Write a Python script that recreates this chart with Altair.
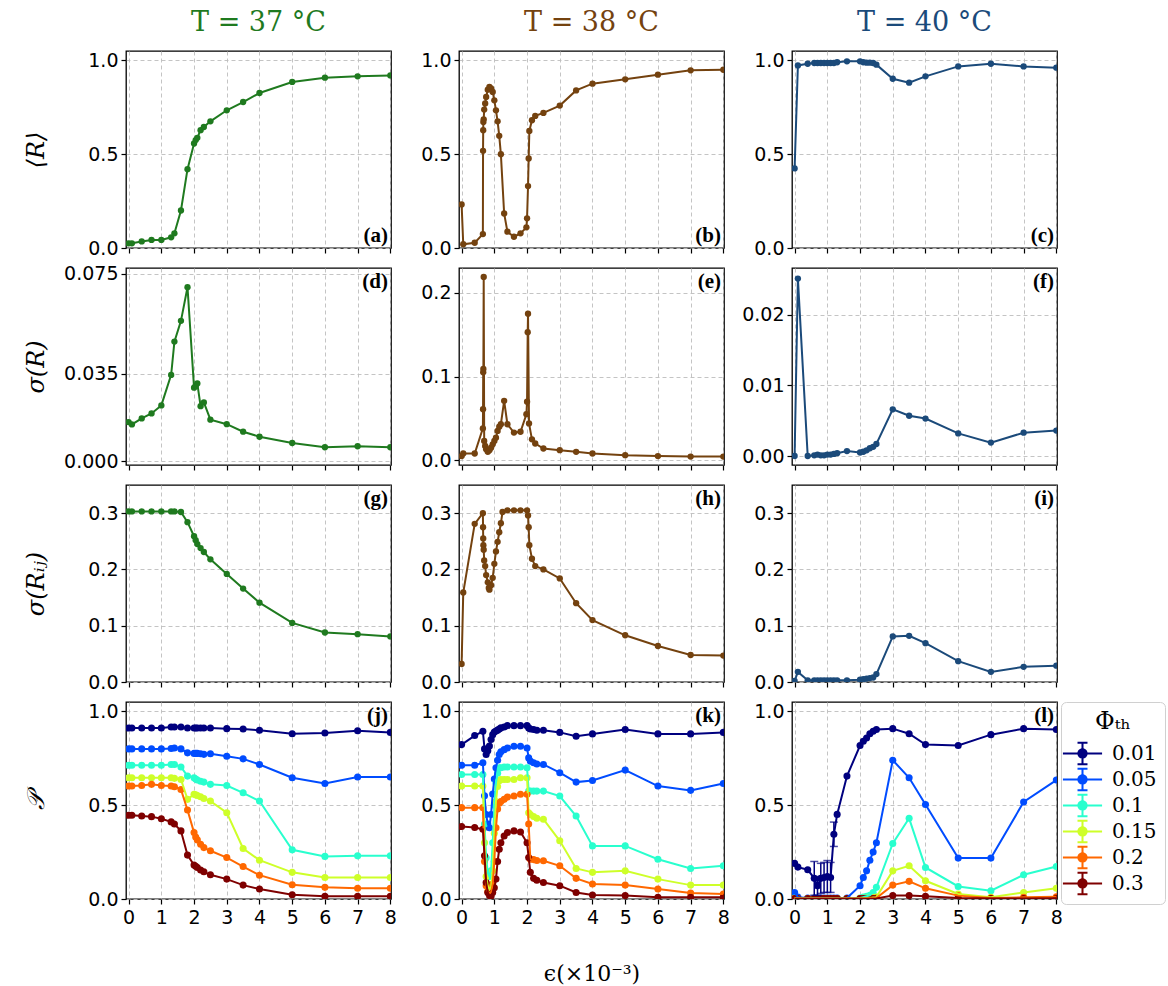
import altair as alt
import pandas as pd

# ---------------- data ----------------
TITLES = ["T = 37 °C", "T = 38 °C", "T = 40 °C"]
COLORS = ["#1f7a1f", "#74420f", "#1b4a7a"]
PHI = ["0.01", "0.05", "0.1", "0.15", "0.2", "0.3"]
JET = ["#00007f", "#004cff", "#29ffce", "#ceff29", "#ff6800", "#7f0000"]
X_TICKS = [0, 1, 2, 3, 4, 5, 6, 7, 8]
LETTERS = ["(a)", "(b)", "(c)", "(d)", "(e)", "(f)", "(g)", "(h)", "(i)", "(j)", "(k)", "(l)"]

# T = 37 C
X37 = [0, 0.1, 0.4, 0.7, 1.0, 1.3, 1.4, 1.6, 1.8, 2.0, 2.05, 2.1, 2.2, 2.3, 2.5, 3.0, 3.5, 4.0, 5.0, 6.0, 7.0, 8.0]
R37 = [0.025, 0.025, 0.035, 0.043, 0.043, 0.057, 0.078, 0.20, 0.42, 0.557, 0.575, 0.587, 0.628, 0.645, 0.675,
       0.734, 0.778, 0.826, 0.885, 0.908, 0.915, 0.92]
SR37 = [0.0156, 0.0147, 0.0171, 0.0191, 0.0223, 0.0345, 0.0478, 0.0561, 0.0695, 0.0294, 0.0301, 0.0311, 0.0220,
        0.0235, 0.0166, 0.0148, 0.0118, 0.0098, 0.0073, 0.0056, 0.0060, 0.0056]
SRIJ37 = [0.303, 0.303, 0.303, 0.303, 0.303, 0.303, 0.303, 0.302, 0.284, 0.259, 0.252, 0.245, 0.238, 0.231, 0.218,
          0.192, 0.166, 0.141, 0.105, 0.088, 0.085, 0.081]
P37_001 = [0.911, 0.911, 0.911, 0.911, 0.911, 0.917, 0.917, 0.917, 0.911, 0.911, 0.911, 0.911, 0.911, 0.911, 0.911,
           0.908, 0.906, 0.899, 0.881, 0.885, 0.897, 0.888]
P37_005 = [0.80, 0.80, 0.80, 0.80, 0.80, 0.802, 0.805, 0.80, 0.779, 0.776, 0.776, 0.776, 0.774, 0.771, 0.774,
           0.761, 0.747, 0.717, 0.646, 0.616, 0.65, 0.65]
P37_010 = [0.713, 0.713, 0.713, 0.713, 0.713, 0.717, 0.717, 0.704, 0.655, 0.646, 0.64, 0.634, 0.628, 0.623, 0.611,
           0.605, 0.566, 0.522, 0.262, 0.227, 0.23, 0.23]
P37_015 = [0.646, 0.646, 0.646, 0.646, 0.646, 0.646, 0.643, 0.637, 0.531, 0.558, 0.555, 0.552, 0.545, 0.536, 0.522,
           0.46, 0.269, 0.207, 0.142, 0.115, 0.115, 0.115]
P37_020 = [0.602, 0.602, 0.605, 0.611, 0.605, 0.602, 0.598, 0.584, 0.474, 0.354, 0.33, 0.315, 0.292, 0.274, 0.257,
           0.221, 0.173, 0.127, 0.076, 0.062, 0.057, 0.057]
P37_030 = [0.446, 0.446, 0.442, 0.439, 0.428, 0.411, 0.40, 0.363, 0.234, 0.181, 0.175, 0.168, 0.155, 0.145, 0.129,
           0.106, 0.074, 0.053, 0.023, 0.014, 0.014, 0.014]

# T = 38 C
XR38 = [0, 0.05, 0.4, 0.65, 0.655, 0.66, 0.665, 0.675, 0.69, 0.72, 0.75, 0.8, 0.85, 0.9, 0.95, 1.0, 1.05, 1.1,
        1.15, 1.2, 1.3, 1.4, 1.6, 1.8, 1.98, 2.0, 2.03, 2.05, 2.07, 2.15, 2.25, 2.5, 3.0, 3.5, 4.0, 5.0, 6.0, 7.0, 8.0]
R38 = [0.232, 0.02, 0.028, 0.074, 0.518, 0.628, 0.672, 0.686, 0.738, 0.77, 0.805, 0.844, 0.858, 0.85, 0.832,
       0.787, 0.734, 0.675, 0.598, 0.5, 0.184, 0.087, 0.06, 0.078, 0.11, 0.158, 0.33, 0.477, 0.624, 0.681, 0.704,
       0.72, 0.759, 0.84, 0.876, 0.899, 0.924, 0.947, 0.95]
XS38 = [0, 0.05, 0.4, 0.65, 0.655, 0.66, 0.665, 0.675, 0.69, 0.72, 0.75, 0.8, 0.85, 0.9, 0.95, 1.0, 1.05, 1.1,
        1.15, 1.2, 1.3, 1.4, 1.6, 1.8, 1.98, 2.0, 2.02, 2.03, 2.06, 2.15, 2.25, 2.5, 3.0, 3.5, 4.0, 5.0, 6.0, 7.0, 8.0]
SR38 = [0.005, 0.008, 0.008, 0.038, 0.061, 0.105, 0.109, 0.219, 0.023, 0.017, 0.013, 0.010, 0.012, 0.015, 0.019,
        0.023, 0.027, 0.035, 0.040, 0.043, 0.071, 0.043, 0.033, 0.034, 0.055, 0.07, 0.153, 0.175, 0.044, 0.025,
        0.02, 0.014, 0.012, 0.01, 0.008, 0.006, 0.005, 0.0044, 0.0044]
XH38 = [0, 0.05, 0.4, 0.65, 0.655, 0.66, 0.665, 0.675, 0.69, 0.72, 0.75, 0.8, 0.83, 0.85, 0.9, 0.95, 1.0, 1.05,
        1.1, 1.15, 1.2, 1.25, 1.4, 1.6, 1.8, 2.0, 2.03, 2.05, 2.07, 2.15, 2.25, 2.5, 3.0, 3.5, 4.0, 5.0, 6.0, 7.0, 8.0]
SRIJ38 = [0.032, 0.159, 0.281, 0.3, 0.275, 0.255, 0.243, 0.235, 0.216, 0.206, 0.19, 0.177, 0.167, 0.164, 0.172,
          0.185, 0.21, 0.232, 0.249, 0.266, 0.282, 0.302, 0.305, 0.305, 0.305, 0.305, 0.296, 0.275, 0.243, 0.219,
          0.206, 0.2, 0.184, 0.14, 0.11, 0.083, 0.064, 0.048, 0.047]
X38P = [0, 0.4, 0.65, 0.7, 0.75, 0.8, 0.85, 0.9, 0.95, 1.0, 1.05, 1.1, 1.15, 1.2, 1.3, 1.4, 1.6, 1.8, 2.0, 2.05,
        2.1, 2.2, 2.3, 2.5, 3.0, 3.5, 4.0, 5.0, 6.0, 7.0, 8.0]
P38_001 = [0.823, 0.871, 0.894, 0.80, 0.77, 0.79, 0.815, 0.85, 0.876, 0.89, 0.895, 0.90, 0.906, 0.912, 0.917, 0.924,
           0.924, 0.924, 0.924, 0.912, 0.906, 0.903, 0.899, 0.899, 0.888, 0.867, 0.88, 0.903, 0.88, 0.88, 0.888]
P38_005 = [0.713, 0.713, 0.726, 0.55, 0.45, 0.40, 0.38, 0.45, 0.56, 0.64, 0.70, 0.74, 0.77, 0.785, 0.796, 0.805,
           0.814, 0.814, 0.805, 0.752, 0.735, 0.726, 0.72, 0.717, 0.673, 0.623, 0.632, 0.687, 0.602, 0.579, 0.616]
P38_010 = [0.664, 0.664, 0.664, 0.40, 0.22, 0.14, 0.12, 0.15, 0.30, 0.50, 0.62, 0.67, 0.70, 0.70, 0.704, 0.704,
           0.704, 0.704, 0.70, 0.575, 0.575, 0.575, 0.575, 0.575, 0.549, 0.442, 0.283, 0.283, 0.212, 0.163, 0.177]
P38_015 = [0.602, 0.602, 0.602, 0.30, 0.12, 0.07, 0.05, 0.06, 0.15, 0.35, 0.52, 0.60, 0.63, 0.637, 0.637, 0.637,
           0.637, 0.646, 0.646, 0.46, 0.45, 0.44, 0.43, 0.425, 0.31, 0.163, 0.142, 0.15, 0.106, 0.074, 0.074]
P38_020 = [0.487, 0.487, 0.487, 0.20, 0.07, 0.04, 0.03, 0.035, 0.08, 0.20, 0.38, 0.48, 0.51, 0.52, 0.531, 0.543,
           0.549, 0.558, 0.558, 0.40, 0.212, 0.21, 0.205, 0.204, 0.177, 0.11, 0.08, 0.074, 0.053, 0.032, 0.027]
P38_030 = [0.386, 0.381, 0.372, 0.23, 0.088, 0.035, 0.018, 0.015, 0.035, 0.06, 0.106, 0.20, 0.265, 0.30, 0.336,
           0.354, 0.363, 0.357, 0.30, 0.221, 0.142, 0.11, 0.10, 0.088, 0.071, 0.035, 0.021, 0.018, 0.009, 0.009, 0.009]

# T = 40 C
X40 = [0, 0.1, 0.4, 0.6, 0.7, 0.8, 0.9, 1.0, 1.1, 1.2, 1.3, 1.6, 2.0, 2.1, 2.2, 2.3, 2.4, 2.5, 3.0, 3.5, 4.0, 5.0,
       6.0, 7.0, 8.0]
R40 = [0.424, 0.973, 0.982, 0.986, 0.986, 0.986, 0.986, 0.986, 0.986, 0.986, 0.99, 0.995, 0.995, 0.99, 0.988,
       0.988, 0.986, 0.977, 0.902, 0.881, 0.915, 0.968, 0.982, 0.968, 0.961]
SR40 = [0.0, 0.0251, 0.0, 0.0001, 0.0002, 0.0001, 0.0001, 0.0002, 0.0002, 0.0003, 0.0004, 0.0007, 0.0005, 0.0006,
        0.0008, 0.0011, 0.0013, 0.0017, 0.0066, 0.0057, 0.0053, 0.0032, 0.0019, 0.0033, 0.0036]
SRIJ40 = [0.002, 0.018, 0.003, 0.003, 0.003, 0.003, 0.003, 0.003, 0.003, 0.003, 0.003, 0.003, 0.004, 0.005, 0.006,
          0.007, 0.008, 0.014, 0.081, 0.082, 0.069, 0.037, 0.018, 0.027, 0.029]
P40_001 = [0.19, 0.17, 0.156, 0.11, 0.07, 0.11, 0.115, 0.12, 0.115, 0.345, 0.451, 0.655, 0.818, 0.841, 0.858, 0.881,
           0.894, 0.903, 0.908, 0.881, 0.823, 0.818, 0.876, 0.908, 0.903]
P40_005 = [0.035, 0.01, 0.005, 0.005, 0.005, 0.005, 0.005, 0.005, 0.005, 0.005, 0.005, 0.005, 0.071, 0.115, 0.15,
           0.207, 0.25, 0.30, 0.74, 0.646, 0.504, 0.218, 0.218, 0.517, 0.634]
P40_010 = [0.005, 0.003, 0.003, 0.003, 0.003, 0.003, 0.003, 0.003, 0.003, 0.003, 0.003, 0.003, 0.005, 0.01, 0.015,
           0.02, 0.035, 0.062, 0.296, 0.43, 0.168, 0.067, 0.044, 0.129, 0.173]
P40_015 = [0.003, 0.003, 0.003, 0.003, 0.003, 0.003, 0.003, 0.003, 0.003, 0.003, 0.003, 0.003, 0.003, 0.004, 0.005,
           0.006, 0.008, 0.01, 0.15, 0.177, 0.097, 0.027, 0.009, 0.035, 0.057]
P40_020 = [0.003, 0.003, 0.003, 0.003, 0.003, 0.003, 0.003, 0.003, 0.003, 0.003, 0.003, 0.003, 0.003, 0.003, 0.003,
           0.004, 0.004, 0.005, 0.074, 0.094, 0.057, 0.018, 0.005, 0.009, 0.012]
P40_030 = [0.002, 0.002, 0.002, 0.002, 0.002, 0.002, 0.002, 0.002, 0.002, 0.002, 0.002, 0.002, 0.002, 0.002, 0.002,
           0.002, 0.002, 0.003, 0.018, 0.018, 0.014, 0.005, 0.003, 0.003, 0.004]
# error bars (Phi_th = 0.01, T = 40 C)
EX40 = [0.6, 0.7, 0.8, 0.9, 1.0, 1.1, 1.2]
EY40 = [0.11, 0.07, 0.11, 0.115, 0.12, 0.115, 0.345]
EE40 = [0.09, 0.05, 0.08, 0.08, 0.085, 0.08, 0.065]

# ---------------- layout helpers ----------------
W, H = 265, 197
XS = alt.Scale(domain=[-0.08, 8.02], nice=False, zero=False)
LBL = dict(labelFont="DejaVu Sans", labelFontSize=19, labelColor="black")
GRID = dict(grid=True, gridColor="#bdbdbd", gridDash=[4, 3], gridWidth=0.9)
TICK = dict(ticks=True, tickSize=5, tickColor="black", tickWidth=1.2, domain=False)

SYM = ("M-1.45,-0.075H1.45V0.075H-1.45Z"
       "M-0.075,-0.8H0.075V0.8H-0.075Z"
       "M-0.37,-0.87H0.37V-0.73H-0.37Z"
       "M-0.37,0.73H0.37V0.87H-0.37Z"
       "M0.38,0A0.38,0.38,0,1,1,-0.38,0A0.38,0.38,0,1,1,0.38,0Z")


def x_axis(bottom, title=None):
    kw = dict(values=X_TICKS, format="d", labels=bottom, labelPadding=4, labelFlush=False, **LBL, **GRID, **TICK)
    if title:
        kw.update(title=title, titleFont="DejaVu Serif", titleFontSize=22, titleFontWeight="normal",
                  titleColor="black", titlePadding=36)
    else:
        kw.update(title=None)
    return alt.Axis(**kw)


def y_axis(values, fmt, title=None):
    kw = dict(values=values, format=fmt, labelPadding=3, minExtent=58, maxExtent=58, **LBL, **GRID, **TICK)
    if title:
        kw.update(title=title, titleFont="DejaVu Serif", titleFontSize=24, titleFontWeight="normal",
                  titleFontStyle="italic", titleColor="black", titlePadding=20)
    else:
        kw.update(title=None)
    return alt.Axis(**kw)


def letter_layer(letter, top):
    return alt.Chart(pd.DataFrame({"t": [letter]})).mark_text(
        align="right", baseline="alphabetic", font="Liberation Serif", fontWeight="bold", fontSize=21,
        color="black").encode(text="t:N", x=alt.value(W - 3), y=alt.value(20 if top else H - 6))


def single(x, y, color, ydom, yvals, yfmt, ytitle, letter, top, title=None):
    df = pd.DataFrame({"x": x, "y": y})
    ys = alt.Scale(domain=ydom, nice=False, zero=False)
    enc = dict(x=alt.X("x:Q", scale=XS, axis=x_axis(False)),
               y=alt.Y("y:Q", scale=ys, axis=y_axis(yvals, yfmt, ytitle)))
    line = alt.Chart(df).mark_line(color=color, strokeWidth=2, clip=True).encode(**enc)
    pts = alt.Chart(df).mark_circle(color=color, size=40, opacity=1, clip=True).encode(**enc)
    ch = alt.layer(line, pts, letter_layer(letter, top)).properties(width=W, height=H)
    if title:
        ch = ch.properties(title=alt.TitleParams(title, color=color, font="DejaVu Serif", fontSize=27,
                                                 fontWeight="normal", anchor="middle", offset=14))
    return ch


def multi(x, series, ytitle, letter, xtitle=None, legend=False, err=None):
    df = pd.concat([pd.DataFrame({"x": x, "y": v, "phi": k}) for k, v in zip(PHI, series)])
    ys = alt.Scale(domain=[0, 1.05], nice=False, zero=False)
    xa = x_axis(True, xtitle)
    ya = y_axis([0, 0.5, 1.0], ".1f", ytitle)
    cs = alt.Scale(domain=PHI, range=JET)
    leg = None
    if legend:
        leg = alt.Legend(title="Φₜₕ", orient="right", offset=4, padding=8, cornerRadius=5,
                         strokeColor="#d0d0d0", fillColor="white", titleFont="DejaVu Serif", titleFontSize=24,
                         titleFontWeight="normal", titleColor="black", titleAnchor="middle", titlePadding=6,
                         labelFont="DejaVu Serif", labelFontSize=20, labelColor="black", labelOffset=16,
                         symbolType=SYM, symbolSize=729, symbolStrokeWidth=0, symbolOpacity=1, rowPadding=0)
    pts = alt.Chart(df).mark_circle(size=50, opacity=1, clip=True).encode(
        x=alt.X("x:Q", scale=XS, axis=xa), y=alt.Y("y:Q", scale=ys, axis=ya),
        color=alt.Color("phi:N", scale=cs, legend=leg))
    line = alt.Chart(df).mark_line(strokeWidth=2, clip=True).encode(
        x=alt.X("x:Q", scale=XS, axis=xa), y=alt.Y("y:Q", scale=ys, axis=ya),
        color=alt.Color("phi:N", scale=cs, legend=None))
    layers = [pts, line]
    if err is not None:
        ex, ey, ee = err
        edf = pd.DataFrame({"x": ex, "lo": [a - b for a, b in zip(ey, ee)], "hi": [a + b for a, b in zip(ey, ee)]})
        layers.append(alt.Chart(edf).mark_errorbar(ticks=True, color=JET[0], thickness=1.5, size=8, clip=True).encode(
            x=alt.X("x:Q", scale=XS, axis=xa), y=alt.Y("lo:Q", scale=ys, axis=ya), y2="hi:Q"))
    layers.append(letter_layer(letter, True))
    return alt.layer(*layers).properties(width=W, height=H)


panels = [
    single(X37, R37, COLORS[0], [0, 1.05], [0, 0.5, 1.0], ".1f", "⟨R⟩", LETTERS[0], False, TITLES[0]),
    single(XR38, R38, COLORS[1], [0, 1.05], [0, 0.5, 1.0], ".1f", None, LETTERS[1], False, TITLES[1]),
    single(X40, R40, COLORS[2], [0, 1.05], [0, 0.5, 1.0], ".1f", None, LETTERS[2], False, TITLES[2]),
    single(X37, SR37, COLORS[0], [-0.0015, 0.0772], [0, 0.035, 0.075], ".3f", "σ(R)", LETTERS[3], True),
    single(XS38, SR38, COLORS[1], [-0.0057, 0.2297], [0, 0.1, 0.2], ".1f", None, LETTERS[4], True),
    single(X40, SR40, COLORS[2], [-0.00127, 0.0266], [0, 0.01, 0.02], ".2f", None, LETTERS[5], True),
    single(X37, SRIJ37, COLORS[0], [0, 0.35], [0, 0.1, 0.2, 0.3], ".1f", "σ(Rᵢⱼ)", LETTERS[6], True),
    single(XH38, SRIJ38, COLORS[1], [0, 0.35], [0, 0.1, 0.2, 0.3], ".1f", None, LETTERS[7], True),
    single(X40, SRIJ40, COLORS[2], [0, 0.35], [0, 0.1, 0.2, 0.3], ".1f", None, LETTERS[8], True),
    multi(X37, [P37_001, P37_005, P37_010, P37_015, P37_020, P37_030], "𝒫", LETTERS[9]),
    multi(X38P, [P38_001, P38_005, P38_010, P38_015, P38_020, P38_030], None, LETTERS[10], xtitle="ϵ(×10⁻³)"),
    multi(X40, [P40_001, P40_005, P40_010, P40_015, P40_020, P40_030], None, LETTERS[11], legend=True,
          err=(EX40, EY40, EE40)),
]

chart = alt.ConcatChart(concat=panels, columns=3, align="each", bounds="flush",
                        spacing={"row": 20, "column": 68}).resolve_scale(
    color="independent").resolve_legend(color="independent").properties(
    padding={"left": 23, "top": 8, "right": 0, "bottom": 10}, background="white").configure_view(
    stroke="black", strokeWidth=1.3)

chart.save("out.html", embed_options={"renderer": "svg", "actions": False})
